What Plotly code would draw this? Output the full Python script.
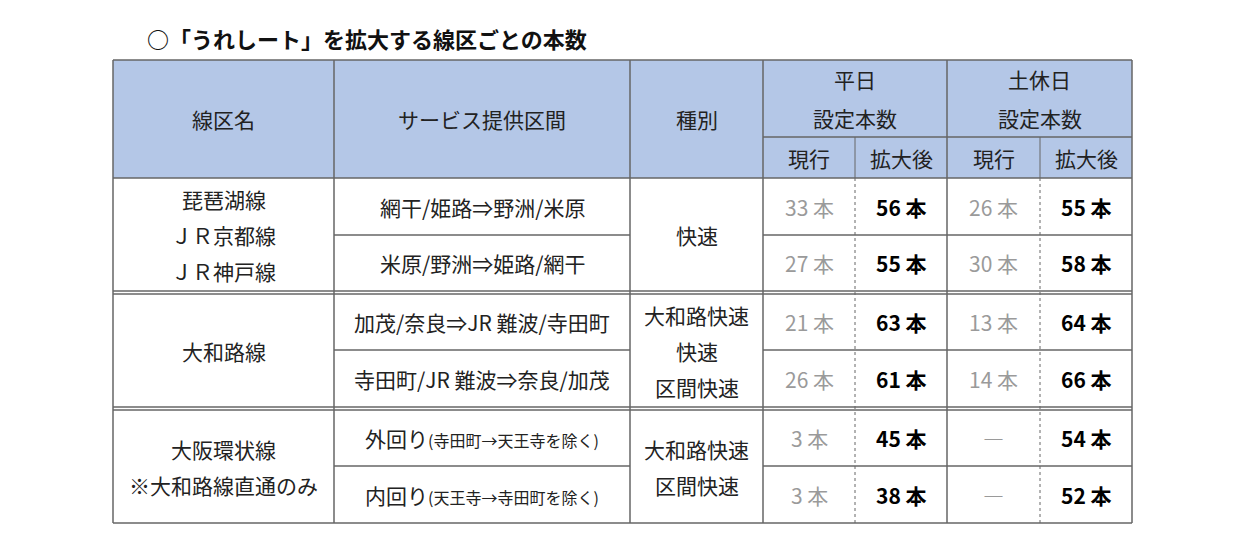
import plotly.graph_objects as go

FONT = "Noto Sans CJK JP"

title = "○「うれしート」を拡大する線区ごとの本数"
header_cols = ["線区名", "サービス提供区間", "種別"]
header_groups = [["平日", "設定本数"], ["土休日", "設定本数"]]
sub_headers = ["現行", "拡大後", "現行", "拡大後"]

lines = [["琵琶湖線", "ＪＲ京都線", "ＪＲ神戸線"], ["大和路線"], ["大阪環状線", "※大和路線直通のみ"]]
sections = [
    "網干/姫路⇒野洲/米原", "米原/野洲⇒姫路/網干",
    "加茂/奈良⇒JR 難波/寺田町", "寺田町/JR 難波⇒奈良/加茂",
    "外回り<span style='font-size:16px'>(寺田町→天王寺を除く)</span>",
    "内回り<span style='font-size:16px'>(天王寺→寺田町を除く)</span>",
]
kinds = [["快速"], ["大和路快速", "快速", "区間快速"], ["大和路快速", "区間快速"]]
weekday_now = ["33 本", "27 本", "21 本", "26 本", "3 本", "3 本"]
weekday_new = ["56 本", "55 本", "63 本", "61 本", "45 本", "38 本"]
holiday_now = ["26 本", "30 本", "13 本", "14 本", "―", "―"]
holiday_new = ["55 本", "58 本", "64 本", "66 本", "54 本", "52 本"]

# grid geometry (pixels, page offset of 8px removed)
OFF = 8
xs = [x - OFF for x in [113, 334, 630, 763, 855, 947, 1040, 1132]]
row_tops = [y - OFF for y in [178, 235, 294, 350, 410, 466]]
row_bots = [y - OFF for y in [235, 291, 350, 407, 466, 523]]
h_top, h_mid, h_bot = 60 - OFF, 137 - OFF, 178 - OFF
LINE = "#666666"
LH = 36  # line spacing for stacked cell text

fig = go.Figure()
shapes = []
ann = []


def text(x, y, s, size=21, color="#222222", bold=False, xanchor="center"):
    if bold:
        s = "<b>" + s + "</b>"
    ann.append(dict(x=x, y=y, text=s, showarrow=False, xanchor=xanchor, yanchor="middle",
                    font=dict(family=FONT, size=size, color=color)))


def stacked(x, yc, parts, lh=LH):
    n = len(parts)
    for k, s in enumerate(parts):
        text(x, yc + (k - (n - 1) / 2) * lh, s)


def hline(y, x0, x1, dash="solid", w=1.5):
    shapes.append(dict(type="line", x0=x0, x1=x1, y0=y, y1=y, line=dict(color=LINE, width=w, dash=dash)))


def vline(x, y0, y1, dash="solid", w=1.5):
    shapes.append(dict(type="line", x0=x, x1=x, y0=y0, y1=y1, line=dict(color=LINE, width=w, dash=dash)))


shapes.append(dict(type="rect", x0=xs[0], x1=xs[-1], y0=h_top, y1=h_bot,
                   fillcolor="#B4C7E7", line=dict(width=0), layer="below"))

text(145 - OFF, 38 - OFF, title, size=22, color="#111111", bold=True, xanchor="left")

for i, s in enumerate(header_cols):
    text((xs[i] + xs[i + 1]) / 2, (h_top + h_bot) / 2, s)
for i, s in enumerate(header_groups):
    stacked((xs[3 + 2 * i] + xs[5 + 2 * i]) / 2, (h_top + h_mid) / 2, s, lh=39)
for i, s in enumerate(sub_headers):
    text((xs[3 + i] + xs[4 + i]) / 2, (h_mid + h_bot) / 2, s)

for g in range(3):
    top, bot = row_tops[2 * g], row_bots[2 * g + 1]
    stacked((xs[0] + xs[1]) / 2, (top + bot) / 2, lines[g])
    stacked((xs[2] + xs[3]) / 2, (top + bot) / 2, kinds[g])
for r in range(6):
    yc = (row_tops[r] + row_bots[r]) / 2
    text((xs[1] + xs[2]) / 2, yc, sections[r])
    text((xs[3] + xs[4]) / 2, yc, weekday_now[r], color="#9a9a9a")
    text((xs[4] + xs[5]) / 2, yc, weekday_new[r], color="#000000", bold=True)
    text((xs[5] + xs[6]) / 2, yc, holiday_now[r], color="#9a9a9a")
    text((xs[6] + xs[7]) / 2, yc, holiday_new[r], color="#000000", bold=True)

hline(h_top, xs[0], xs[-1])
hline(h_mid, xs[3], xs[-1])
hline(h_bot, xs[0], xs[-1])
for g in range(3):
    hline(row_bots[2 * g], xs[1], xs[2])
    hline(row_bots[2 * g], xs[3], xs[-1])
    hline(row_bots[2 * g + 1], xs[0], xs[-1])
    if g < 2:
        hline(row_tops[2 * g + 2], xs[0], xs[-1])
for x in [xs[0], xs[1], xs[2], xs[3], xs[5], xs[7]]:
    vline(x, h_top, row_bots[-1])
for x in [xs[4], xs[6]]:
    vline(x, h_mid, h_bot, w=1)
    vline(x, h_bot, row_bots[-1], dash="dot", w=1)

fig.update_layout(
    width=1239, height=550, margin=dict(l=0, r=0, t=0, b=0),
    paper_bgcolor="white", plot_bgcolor="white",
    shapes=shapes, annotations=ann, showlegend=False,
    xaxis=dict(range=[0, 1239], visible=False, fixedrange=True),
    yaxis=dict(range=[550, 0], visible=False, fixedrange=True),
)
fig.write_html("out.html", config={"displayModeBar": False})
